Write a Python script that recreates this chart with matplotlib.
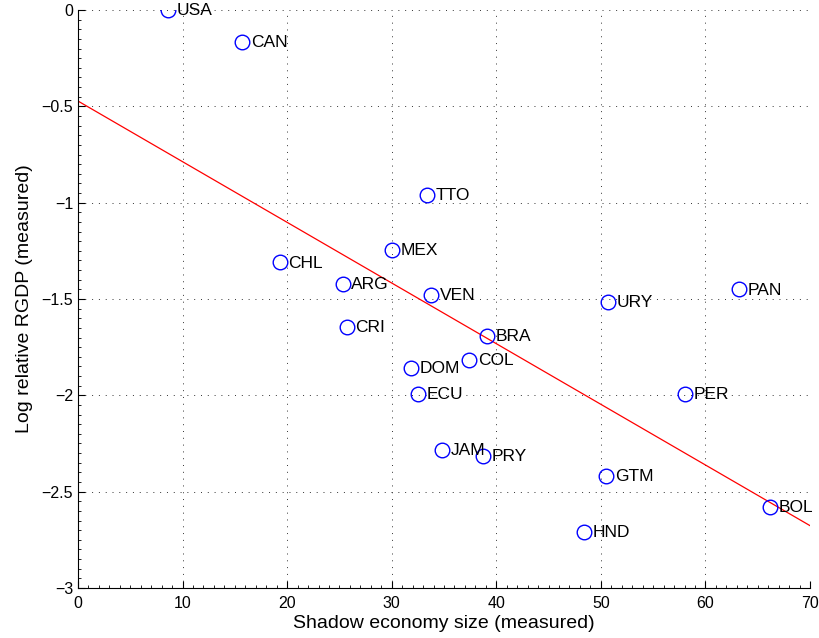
import numpy as np
import matplotlib.pyplot as plt
from matplotlib.ticker import MultipleLocator, FuncFormatter

plt.rcParams['font.family'] = ['Liberation Sans', 'DejaVu Sans']

# data
countries = ['USA', 'CAN', 'TTO', 'MEX', 'CHL', 'ARG', 'VEN', 'PAN', 'URY', 'CRI',
             'BRA', 'COL', 'DOM', 'ECU', 'PER', 'JAM', 'PRY', 'GTM', 'BOL', 'HND']
shadow = [8.6, 15.7, 33.4, 30.0, 19.3, 25.3, 33.8, 63.2, 50.7, 25.7,
          39.1, 37.4, 31.8, 32.5, 58.0, 34.8, 38.7, 50.5, 66.2, 48.4]
log_rgdp = [0.0, -0.166, -0.96, -1.245, -1.31, -1.42, -1.48, -1.45, -1.515, -1.645,
            -1.69, -1.816, -1.858, -1.993, -1.993, -2.283, -2.314, -2.418, -2.58, -2.709]

fig = plt.figure(figsize=(8.2, 6.38), dpi=100)
ax = fig.add_axes([0.0951, 0.0784, 0.8927, 0.9059])

ax.plot(shadow, log_rgdp, 'o', mfc='none', mec='#0000ff', ms=10.5, mew=1.0, zorder=3)
for name, x, y in zip(countries, shadow, log_rgdp):
    ax.annotate(name, (x, y), xytext=(6.3, -0.5), textcoords='offset points',
                ha='left', va='center', fontsize=12.5)

# fitted line
slope, intercept = np.polyfit(shadow, log_rgdp, 1)
xl = np.array([0, 70])
ax.plot(xl, intercept + slope * xl, color='red', lw=0.9, zorder=2)

fmt = FuncFormatter(lambda v, p: ('%g' % v).replace('-', '\u2212'))
ax.set_xlim(0, 70)
ax.set_ylim(-3, 0)
ax.xaxis.set_major_locator(MultipleLocator(10))
ax.yaxis.set_major_locator(MultipleLocator(0.5))
ax.xaxis.set_minor_locator(MultipleLocator(1))
ax.yaxis.set_minor_locator(MultipleLocator(0.05))
ax.xaxis.set_major_formatter(fmt)
ax.yaxis.set_major_formatter(fmt)
ax.tick_params(which='both', direction='in', labelsize=11.5)
ax.tick_params(which='major', length=5)
ax.tick_params(which='minor', length=2.5)
ax.tick_params(axis='x', pad=6)
ax.grid(True, which='major', linestyle=(0, (1, 6)), color='#333333', lw=0.7)
ax.spines['top'].set_visible(False)
ax.spines['right'].set_visible(False)
ax.set_xlabel('Shadow economy size (measured)', fontsize=14, labelpad=3)
ax.set_ylabel('Log relative RGDP (measured)', fontsize=14, labelpad=6)

plt.savefig('out.png', dpi=100)
